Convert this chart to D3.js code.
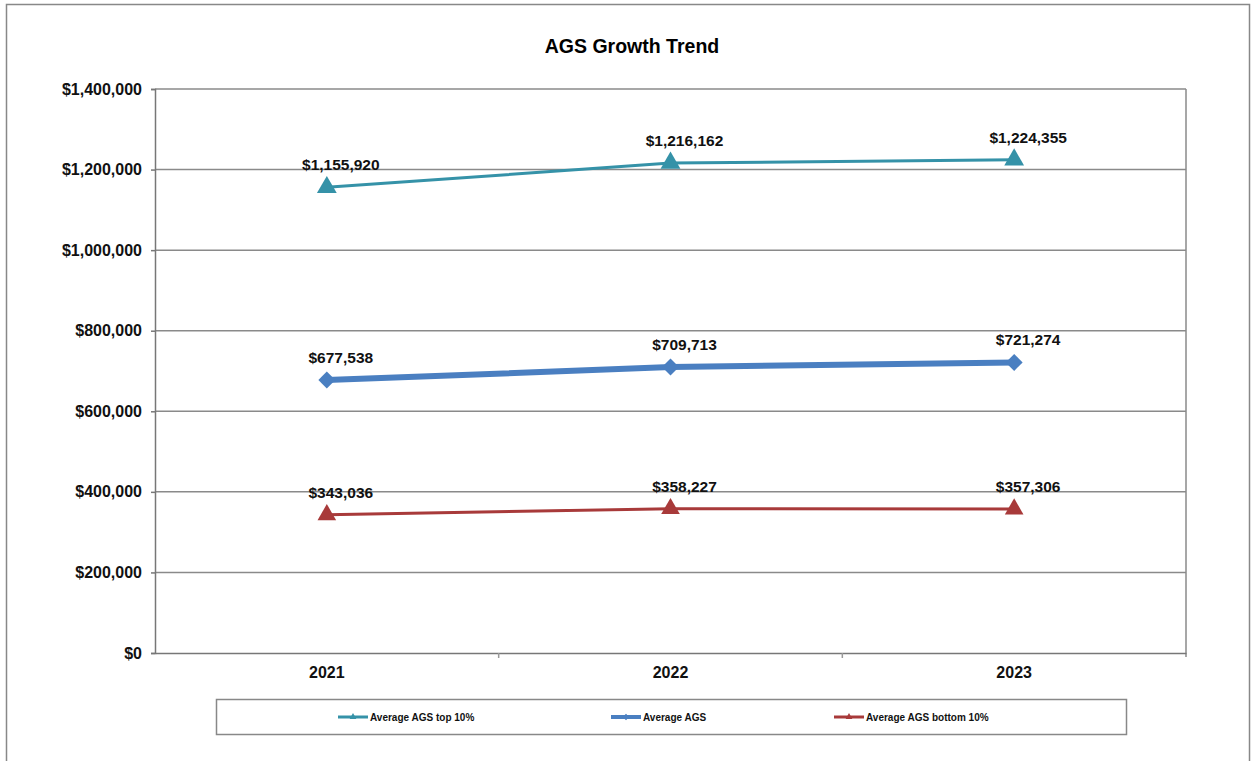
<!DOCTYPE html>
<html>
<head>
<meta charset="utf-8">
<script src="https://cdn.jsdelivr.net/npm/d3@7"></script>
<style>
  body { margin: 0; background: #fff; font-family: Arial, "Liberation Sans", sans-serif; }
  .tick text { font-weight: bold; fill: #111; }
</style>
<title>AGS Growth Trend</title>
</head>
<body>
<script>
  // data
  var years = ["2021", "2022", "2023"];
  var top10 = [1155920, 1216162, 1224355];
  var average = [677538, 709713, 721274];
  var bottom10 = [343036, 358227, 357306];
  var seriesNames = ["Average AGS top 10%", "Average AGS", "Average AGS bottom 10%"];
  var yTicks = [0, 200000, 400000, 600000, 800000, 1000000, 1200000, 1400000];

  var width = 1253, height = 761;
  var margin = { top: 89, right: 67, bottom: 108, left: 155 };

  var svg = d3.select("body").append("svg")
    .attr("width", width).attr("height", height);

  // outer chart frame
  svg.append("rect")
    .attr("x", 6.5).attr("y", 4.5)
    .attr("width", 1243).attr("height", 780)
    .attr("fill", "none").attr("stroke", "#888").attr("stroke-width", 1.5);

  var x = d3.scaleBand().domain(years)
    .range([margin.left, width - margin.right]);
  var y = d3.scaleLinear().domain([0, 1400000])
    .range([height - margin.bottom, margin.top]);

  var money = d3.format("$,.0f");

  // gridlines
  svg.append("g").selectAll("line")
    .data(yTicks.slice(1))
    .enter().append("line")
    .attr("x1", margin.left).attr("x2", width - margin.right)
    .attr("y1", d => y(d)).attr("y2", d => y(d))
    .attr("stroke", "#8a8a8a").attr("stroke-width", 1.5);

  // right border of plot
  svg.append("line")
    .attr("x1", width - margin.right).attr("x2", width - margin.right)
    .attr("y1", margin.top).attr("y2", height - margin.bottom + 4)
    .attr("stroke", "#8a8a8a").attr("stroke-width", 1.5);

  // y axis
  var yAxis = svg.append("g")
    .attr("transform", `translate(${margin.left},0)`)
    .call(d3.axisLeft(y).tickValues(yTicks).tickFormat(money).tickSize(4).tickPadding(9));
  yAxis.selectAll("text").style("font-size", "16px");
  yAxis.select(".domain").attr("stroke", "#777").attr("stroke-width", 1.5);
  yAxis.selectAll(".tick line").attr("stroke", "#777").attr("stroke-width", 1.5);

  // x axis with ticks at category boundaries
  var xAxis = svg.append("g")
    .attr("transform", `translate(0,${height - margin.bottom})`)
    .call(d3.axisBottom(x).tickSize(0).tickPadding(14));
  xAxis.selectAll("text").style("font-size", "16px");
  xAxis.select(".domain").attr("stroke", "#777").attr("stroke-width", 1.5);
  xAxis.selectAll("line.sep")
    .data(years.slice(1))
    .enter().append("line")
    .attr("class", "sep")
    .attr("x1", d => x(d)).attr("x2", d => x(d))
    .attr("y1", 0).attr("y2", 5)
    .attr("stroke", "#999").attr("stroke-width", 1.5);

  // title
  svg.append("text")
    .attr("x", 632).attr("y", 53)
    .attr("text-anchor", "middle")
    .style("font-size", "19.5px").style("font-weight", "bold")
    .text("AGS Growth Trend");

  var series = [
    { name: seriesNames[0], values: top10, color: "#3592a8", width: 3, symbol: d3.symbolTriangle, size: 170, rot: 0 },
    { name: seriesNames[1], values: average, color: "#4a7fc1", width: 6, symbol: d3.symbolSquare, size: 144, rot: 45 },
    { name: seriesNames[2], values: bottom10, color: "#a83a3a", width: 3, symbol: d3.symbolTriangle, size: 150, rot: 0 }
  ];

  var cx = d => x(d) + x.bandwidth() / 2;
  var line = d3.line()
    .x((d, i) => cx(years[i]))
    .y(d => y(d));

  series.forEach(function (s) {
    svg.append("path")
      .attr("d", line(s.values))
      .attr("fill", "none")
      .attr("stroke", s.color)
      .attr("stroke-width", s.width);

    svg.selectAll(null)
      .data(s.values)
      .enter().append("path")
      .attr("d", d3.symbol().type(s.symbol).size(s.size))
      .attr("transform", (d, i) => `translate(${cx(years[i])},${y(d)}) rotate(${s.rot})`)
      .attr("fill", s.color);

    svg.selectAll(null)
      .data(s.values)
      .enter().append("text")
      .attr("x", (d, i) => cx(years[i]) + 14)
      .attr("y", d => y(d) - 17)
      .attr("text-anchor", "middle")
      .style("font-size", "15.5px").style("font-weight", "bold")
      .style("fill", "#111")
      .text(d => money(d));
  });

  // legend
  var legend = svg.append("g");
  legend.append("rect")
    .attr("x", 216.5).attr("y", 699.5)
    .attr("width", 910).attr("height", 35)
    .attr("fill", "#fff").attr("stroke", "#888").attr("stroke-width", 1.5);

  var legendX = [338, 611, 834];
  series.forEach(function (s, i) {
    var g = legend.append("g").attr("transform", `translate(${legendX[i]},717)`);
    g.append("line")
      .attr("x1", 0).attr("x2", 30)
      .attr("stroke", s.color).attr("stroke-width", s.width === 6 ? 4 : 3);
    g.append("path")
      .attr("d", d3.symbol().type(s.symbol).size(20))
      .attr("transform", `translate(15,0) rotate(${s.rot})`)
      .attr("fill", s.color);
    g.append("text")
      .attr("x", 32).attr("y", 3.5)
      .style("font-family", "'Liberation Sans Narrow', 'Arial Narrow', sans-serif")
      .style("font-size", "10px").style("font-weight", "bold")
      .style("fill", "#111")
      .text(s.name);
  });
</script>
</body>
</html>
